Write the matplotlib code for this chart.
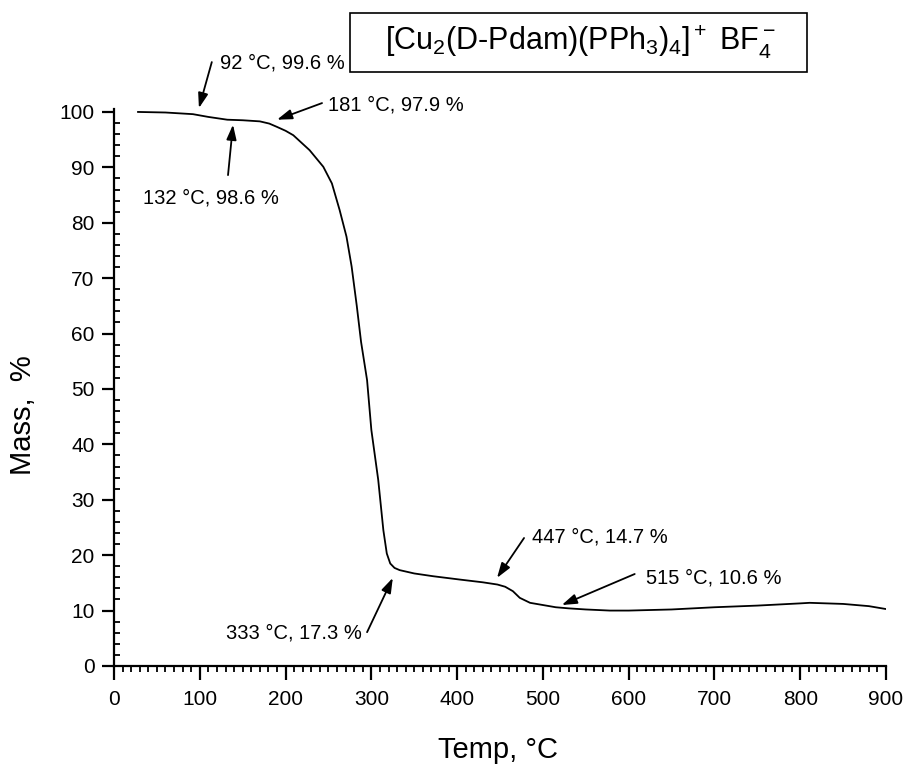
import matplotlib
matplotlib.use("Agg")
import matplotlib.pyplot as plt
from matplotlib.patches import Rectangle
from matplotlib.ticker import MultipleLocator

plt.rcParams['font.family'] = ['Liberation Sans', 'DejaVu Sans']
plt.rcParams['mathtext.fontset'] = 'custom'
plt.rcParams['mathtext.rm'] = 'Liberation Sans'
plt.rcParams['mathtext.it'] = 'Liberation Sans:italic'

# TGA curve
temp = [28, 60, 92, 110, 132, 150, 170, 181, 190, 200, 209, 228, 244, 254,
        263, 271, 277, 283, 288, 295, 300, 308, 314, 318, 322, 327, 333, 350,
        372, 403, 430, 447, 456, 465, 473, 485, 500, 515, 530, 550, 578, 600,
        650, 700, 750, 800, 811, 850, 880, 899]
mass = [100.0, 99.9, 99.6, 99.1, 98.6, 98.5, 98.3, 97.9, 97.3, 96.6, 95.8,
        93.1, 90.1, 87.1, 82.3, 77.5, 72.1, 65.0, 58.5, 51.6, 42.6, 33.6,
        24.5, 20.3, 18.5, 17.7, 17.3, 16.7, 16.2, 15.6, 15.1, 14.7, 14.3,
        13.5, 12.3, 11.4, 11.0, 10.6, 10.4, 10.2, 10.0, 10.0, 10.2, 10.6,
        10.9, 11.3, 11.4, 11.2, 10.8, 10.3]

# annotated points (label text)
ann_labels = ["92 °C, 99.6 %", "181 °C, 97.9 %", "132 °C, 98.6 %",
              "333 °C, 17.3 %", "447 °C, 14.7 %", "515 °C, 10.6 %"]
# arrow tip, arrow tail, text anchor (data coords), text alignment
arrow_tips = [(99, 100.7), (190, 98.6), (138.7, 97.7), (325, 15.9), (446.5, 15.9), (522, 11.0)]
arrow_tails = [(114, 109.0), (242.5, 101.6), (132.9, 88.6), (295, 6.1), (478, 23.1), (607, 16.6)]
text_pos = [(123.5, 108.8), (249.5, 101.3), (33.8, 84.5), (289, 6.0), (487.3, 23.3), (620, 15.9)]
text_ha = ["left", "left", "left", "right", "left", "left"]

title = r"[Cu$_2$(D-Pdam)(PPh$_3$)$_4$]$^+$ BF$_4^-$"

fig = plt.figure(figsize=(9.07, 7.64), dpi=100)
ax = fig.add_axes([0.1257, 0.1283, 0.8512, 0.7288])

ax.plot(temp, mass, color='k', lw=1.3)

ax.set_xlim(0, 900)
ax.set_ylim(0, 100.5)
ax.xaxis.set_major_locator(MultipleLocator(100))
ax.xaxis.set_minor_locator(MultipleLocator(10))
ax.yaxis.set_major_locator(MultipleLocator(10))
ax.yaxis.set_minor_locator(MultipleLocator(2))

for s in ['top', 'right']:
    ax.spines[s].set_visible(False)
for s in ['left', 'bottom']:
    ax.spines[s].set_linewidth(1.6)

ax.tick_params(axis='x', which='major', direction='out', length=10, width=1.6, labelsize=15, pad=7)
ax.tick_params(axis='x', which='minor', direction='out', length=4, width=1.3)
ax.tick_params(axis='y', which='major', direction='out', length=9, width=1.6, labelsize=15, pad=5)
ax.tick_params(axis='y', which='minor', direction='in', length=4, width=1.3)

ax.set_xlabel("Temp, °C", fontsize=21)
ax.set_ylabel("Mass,  %", fontsize=21)
ax.xaxis.set_label_coords(0.497, -0.125)
ax.yaxis.set_label_coords(-0.10, 0.45)

for lab, tip, tail, tp, ha in zip(ann_labels, arrow_tips, arrow_tails, text_pos, text_ha):
    ax.annotate('', xy=tip, xytext=tail, annotation_clip=False,
                arrowprops=dict(arrowstyle='-|>,head_length=0.9,head_width=0.3',
                                color='k', lw=1.3, shrinkA=0, shrinkB=0))
    ax.text(tp[0], tp[1], lab, fontsize=14.5, ha=ha, va='center', clip_on=False)

# title box
fig.patches.append(Rectangle((350 / 907, 1 - 72 / 764), 457 / 907, 59 / 764,
                             transform=fig.transFigure, fill=False, ec='k', lw=1.2))
fig.text(580 / 907, 1 - 42 / 764, title, fontsize=22, ha='center', va='center')

fig.savefig("out.png", dpi=100)
